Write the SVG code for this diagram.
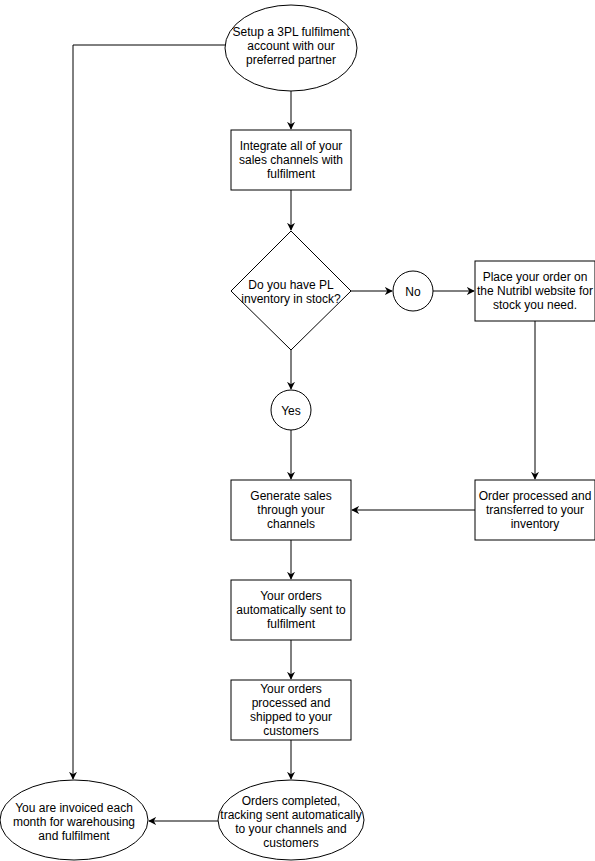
<svg xmlns="http://www.w3.org/2000/svg" width="595" height="861" viewBox="0 0 595 861">
<style>
.s{fill:#fff;stroke:#000;stroke-width:1}
.t{font-family:"Liberation Sans",Arial,sans-serif;font-size:12px;fill:#000;text-anchor:middle}
.c{fill:none;stroke:#000;stroke-width:1}
</style>
<defs>
<marker id="a" viewBox="0 0 10 10" refX="9" refY="5" markerWidth="8" markerHeight="8" markerUnits="userSpaceOnUse" orient="auto">
<path d="M0,0 L10,5 L0,10 L3,5 Z" fill="#000" stroke="none"/>
</marker>
</defs>
<rect width="595" height="861" fill="#fff"/>
<g id="connectors">
<path class="c" d="M226,45 H73 V779" marker-end="url(#a)"/>
<path class="c" d="M291,91 V129" marker-end="url(#a)"/>
<path class="c" d="M291,190 V230" marker-end="url(#a)"/>
<path class="c" d="M351,291 H392" marker-end="url(#a)"/>
<path class="c" d="M433,291 H474" marker-end="url(#a)"/>
<path class="c" d="M535,321 V479" marker-end="url(#a)"/>
<path class="c" d="M291,350 V389" marker-end="url(#a)"/>
<path class="c" d="M291,430 V479" marker-end="url(#a)"/>
<path class="c" d="M475,510 H352" marker-end="url(#a)"/>
<path class="c" d="M291,540 V579" marker-end="url(#a)"/>
<path class="c" d="M291,640 V679" marker-end="url(#a)"/>
<path class="c" d="M291,740 V779" marker-end="url(#a)"/>
<path class="c" d="M218,821 H149" marker-end="url(#a)"/>
</g>
<g id="n1"><ellipse class="s" cx="291" cy="48" rx="66" ry="43"/>
<text class="t" x="291" y="36">Setup a 3PL fulfilment</text><text class="t" x="291" y="50">account with our</text><text class="t" x="291" y="64">preferred partner</text></g>
<g id="n2"><rect class="s" x="231" y="130" width="120" height="60"/>
<text class="t" x="291" y="150">Integrate all of your</text><text class="t" x="291" y="164">sales channels with</text><text class="t" x="291" y="178">fulfilment</text></g>
<g id="n3"><path class="s" d="M291,231 L351,291 L291,350 L231,291 Z"/>
<text class="t" x="291" y="289">Do you have PL</text><text class="t" x="291" y="303">inventory in stock?</text></g>
<g id="n4"><circle class="s" cx="413" cy="291" r="20"/><text class="t" x="413" y="296">No</text></g>
<g id="n5"><rect class="s" x="475" y="261" width="120" height="60"/>
<text class="t" x="535" y="281">Place your order on</text><text class="t" x="535" y="295">the Nutribl website for</text><text class="t" x="535" y="309">stock you need.</text></g>
<g id="n6"><circle class="s" cx="291" cy="410" r="20"/><text class="t" x="291" y="415">Yes</text></g>
<g id="n7"><rect class="s" x="231" y="480" width="120" height="60"/>
<text class="t" x="291" y="500">Generate sales</text><text class="t" x="291" y="514">through your</text><text class="t" x="291" y="528">channels</text></g>
<g id="n8"><rect class="s" x="475" y="480" width="120" height="60"/>
<text class="t" x="535" y="500">Order processed and</text><text class="t" x="535" y="514">transferred to your</text><text class="t" x="535" y="528">inventory</text></g>
<g id="n9"><rect class="s" x="231" y="580" width="120" height="60"/>
<text class="t" x="291" y="600">Your orders</text><text class="t" x="291" y="614">automatically sent to</text><text class="t" x="291" y="628">fulfilment</text></g>
<g id="n10"><rect class="s" x="231" y="680" width="120" height="60"/>
<text class="t" x="291" y="693">Your orders</text><text class="t" x="291" y="707">processed and</text><text class="t" x="291" y="721">shipped to your</text><text class="t" x="291" y="735">customers</text></g>
<g id="n11"><ellipse class="s" cx="291" cy="820" rx="73" ry="40"/>
<text class="t" x="291" y="805">Orders completed,</text><text class="t" x="291" y="819">tracking sent automatically</text><text class="t" x="291" y="833">to your channels and</text><text class="t" x="291" y="847">customers</text></g>
<g id="n12"><ellipse class="s" cx="74" cy="820" rx="74" ry="40"/>
<text class="t" x="74" y="812">You are invoiced each</text><text class="t" x="74" y="826">month for warehousing</text><text class="t" x="74" y="840">and fulfilment</text></g>
</svg>
